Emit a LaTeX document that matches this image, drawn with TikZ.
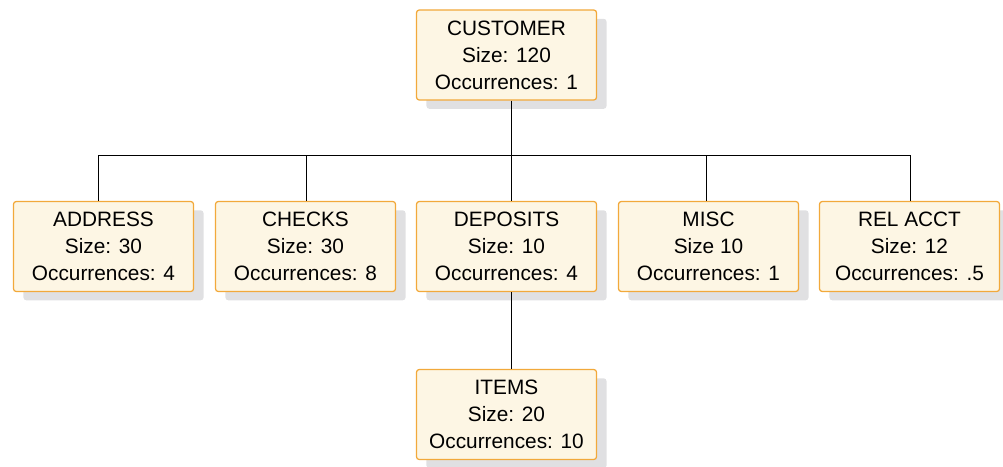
\documentclass[tikz,border=0pt]{standalone}
\usepackage{fontspec}
\setmainfont{Liberation Sans}
\usepackage{xcolor}
\usepackage{tikz}
\usetikzlibrary{positioning,shadows}
\definecolor{boxfill}{HTML}{FDF6E4}
\definecolor{boxline}{HTML}{F2A93B}
\definecolor{shadegray}{HTML}{E0E0E2}

\begin{document}
\begin{tikzpicture}[x=0.025cm,y=-0.025cm,
            segment/.style={rectangle, rounded corners=2pt, draw=boxline, line width=0.9pt, fill=boxfill,
              minimum width=4.5cm, minimum height=2.25cm, align=center, inner sep=0pt,
              font=\fontsize{14.8}{19.3}\selectfont,
              drop shadow={shadow xshift=0.25cm, shadow yshift=-0.22cm, fill=shadegray, opacity=1}},
            link/.style={draw, line width=0.6pt}]
            \useasboundingbox (0,0) rectangle (1003,466);

            % Root segment
            \node[segment] (cust) at (506.5,55) {CUSTOMER\\Size: 120\\Occurrences: 1};

            % Dependent segments
            \node[segment] (addr) at (103.5,246.5) {ADDRESS\\Size: 30\\Occurrences: 4};
            \node[segment] (chk) at (305.5,246.5) {CHECKS\\Size: 30\\Occurrences: 8};
            \node[segment] (dep) at (506.5,246.5) {DEPOSITS\\Size: 10\\Occurrences: 4};
            \node[segment] (misc) at (708.5,246.5) {MISC\\Size 10\\Occurrences: 1};
            \node[segment] (rel) at (909.5,246.5) {REL ACCT\\Size: 12\\Occurrences: .5};
            \node[segment] (items) at (506.5,414.5) {ITEMS\\Size: 20\\Occurrences: 10};

            % Connections
            \foreach \n/\x in {addr/98, chk/306, dep/511, misc/706, rel/910}
              \coordinate (t\n) at (\x,155);
            \draw[link] (taddr) -- (trel);
            \draw[link] (cust.south -| tdep) -- (tdep);
            \foreach \n in {addr, chk, dep, misc, rel}
              \draw[link] (t\n) -- (t\n |- \n.north);
            \draw[link] (dep.south -| tdep) -- (tdep |- items.north);
        \end{tikzpicture}
\end{document}
